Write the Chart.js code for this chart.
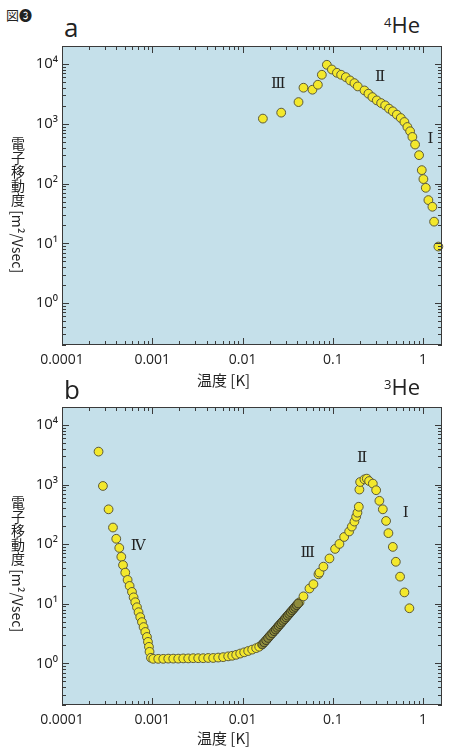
<!DOCTYPE html>
<html>
<head>
<meta charset="utf-8">
<script src="https://cdn.jsdelivr.net/npm/chart.js@4.4.1/dist/chart.umd.min.js"></script>
<style>
  body { margin: 0; background: #fff; width: 452px; height: 747px; position: relative; overflow: hidden;
         font-family: "Open Sans", "Noto Sans", sans-serif; color: #222; }
  .wrap { position: absolute; left: 0; width: 452px; height: 390px; }
  .lbl { position: absolute; line-height: 1; white-space: nowrap; }
  .ytitle { position: absolute; writing-mode: vertical-rl; text-orientation: mixed;
            font-family: "Noto Sans CJK JP", sans-serif; font-size: 14px; line-height: 1; }
  .xtitle { position: absolute; font-family: "Noto Sans CJK JP", sans-serif; font-size: 15px; line-height: 1; }
</style>
</head>
<body>
<div class="lbl" style="left:6px;top:8px;font-family:'Noto Sans CJK JP';font-size:13px;">図❸</div>

<div class="lbl" style="left:64px;top:14px;font-size:26px;">a</div>
<div class="lbl" style="left:384px;top:13px;font-size:22px;"><sup style="font-size:13px;vertical-align:6px;">4</sup>He</div>
<div class="wrap" style="top:0;"><canvas id="he4"></canvas></div>
<div class="ytitle" style="left:11px;top:137px;">電子移動度 [m²/Vsec]</div>
<div class="xtitle" style="left:197px;top:372px;">温度 [K]</div>

<div class="lbl" style="left:64px;top:376px;font-size:26px;">b</div>
<div class="lbl" style="left:384px;top:375px;font-size:22px;"><sup style="font-size:13px;vertical-align:6px;">3</sup>He</div>
<div class="wrap" style="top:360px;"><canvas id="he3"></canvas></div>
<div class="ytitle" style="left:11px;top:496px;">電子移動度 [m²/Vsec]</div>
<div class="xtitle" style="left:197px;top:730px;">温度 [K]</div>

<script>
// axis ticks
const xTickValues = [0.0001, 0.001, 0.01, 0.1, 1];
const xTickLabels = ['0.0001', '0.001', '0.01', '0.1', '1'];
const yTickValues = [1, 10, 100, 1000, 10000];
const yTickLabels = ['10⁰', '10¹', '10²', '10³', '10⁴'];

// (a) 4He : temperature [K], mobility [m^2/Vsec]
const he4T  = [0.0168, 0.0268, 0.0417, 0.0473, 0.0595, 0.0683, 0.0756, 0.0859, 0.0976, 0.111,
               0.1236, 0.1394, 0.1555, 0.1735, 0.189, 0.224, 0.248, 0.2746, 0.307, 0.343,
               0.380, 0.420, 0.462, 0.512, 0.566, 0.621, 0.670, 0.718, 0.761, 0.815,
               0.903, 0.967, 1.008, 1.071, 1.145, 1.268, 1.324, 1.477];
const he4Mu = [1222, 1537, 2307, 4012, 3715, 4500, 6607, 9700, 8094, 7130,
               6607, 6026, 5309, 4786, 4217, 3615, 3187, 2797, 2464, 2221,
               2033, 1792, 1616, 1423, 1250, 1072, 884, 750, 603, 450,
               299, 168, 119, 85, 53, 41, 23.1, 8.85];
const he4Regions = ['Ⅲ', 'Ⅱ', 'Ⅰ'];
const he4RegionT = [0.0248, 0.334, 1.21];
const he4RegionMu = [4550, 5957, 552];

// (b) 3He
const he3T  = [0.000254, 0.000284, 0.000328, 0.000367, 0.000399, 0.000431, 0.000454, 0.000474, 0.000502, 0.000533,
               0.000561, 0.000596, 0.000621, 0.000648, 0.000677, 0.000705, 0.000736, 0.000769, 0.000801, 0.000837,
               0.000873, 0.000896, 0.000919, 0.000933, 0.000967,
               0.001026, 0.001165, 0.001324, 0.001503, 0.001707, 0.001939, 0.002203, 0.002502, 0.002842, 0.003228,
               0.003666, 0.004164, 0.00473, 0.00537, 0.0061, 0.00693, 0.00769, 0.00851, 0.00942, 0.01043,
               0.01155, 0.01279, 0.01416, 0.01529,
               0.0428, 0.0473, 0.0551, 0.061, 0.0693, 0.0711, 0.0787, 0.0918, 0.106, 0.1184,
               0.1335, 0.1517, 0.1625, 0.1735, 0.1813, 0.1874, 0.194, 0.197, 0.2007, 0.224,
               0.238, 0.2524, 0.2775, 0.302, 0.328, 0.358, 0.389, 0.413, 0.462, 0.499,
               0.556, 0.621, 0.705];
const he3Mu = [3565, 946, 384, 190, 123, 86.5, 61.3, 44.5, 33.3, 25.1,
               19.9, 15.8, 12.8, 10.6, 8.73, 7.21, 5.96, 4.92, 4.06, 3.36,
               2.77, 2.29, 1.89, 1.56, 1.24,
               1.19, 1.19, 1.19, 1.20, 1.20, 1.20, 1.21, 1.21, 1.22, 1.22,
               1.22, 1.23, 1.23, 1.25, 1.27, 1.31, 1.34, 1.39, 1.46, 1.53,
               1.61, 1.70, 1.80, 1.90,
               10.6, 13.3, 18.0, 21.3, 31.2, 33.3, 41.9, 57.5, 83.2, 100.8,
               131.8, 163, 197, 239, 289, 337, 424, 824, 1102, 1222,
               1256, 1145, 1037, 803, 533, 384, 245, 153, 89.9, 50.6,
               28.5, 15.5, 8.4];
// crowded, darker-looking stretch of region III
const he3DenseT  = [0.0165, 0.0174, 0.01828, 0.0192, 0.0202, 0.0213, 0.02241, 0.0233, 0.0242, 0.0251,
                    0.02612, 0.0271, 0.02818, 0.0293, 0.03043, 0.0316, 0.03285, 0.0341, 0.03548, 0.0369,
                    0.03828, 0.0398, 0.0413];
const he3DenseMu = [2.07, 2.25, 2.45, 2.67, 2.92, 3.18, 3.46, 3.70, 3.96, 4.24,
                    4.53, 4.84, 5.17, 5.53, 5.91, 6.32, 6.76, 7.22, 7.73, 8.26,
                    8.83, 9.45, 10.1];
const he3Regions = ['Ⅳ', 'Ⅲ', 'Ⅱ', 'Ⅰ'];
const he3RegionT = [0.00070, 0.0526, 0.211, 0.64];
const he3RegionMu = [94.4, 69.5, 2780, 333];

const PLOT_BG = '#c5e0ea';
const FRAME = '#3a3a3a';

function logSteps(min, max) {
  const out = [];
  for (let d = Math.floor(Math.log10(min)); d <= Math.ceil(Math.log10(max)); d++) {
    for (let m = 1; m <= 9; m++) {
      const v = m * Math.pow(10, d);
      if (v >= min && v <= max) out.push({ v, major: m === 1 });
    }
  }
  return out;
}

const framePlugin = {
  id: 'frame',
  beforeDatasetsDraw(chart) {
    const { ctx, chartArea: a } = chart;
    ctx.save();
    ctx.fillStyle = PLOT_BG;
    ctx.fillRect(a.left, a.top, a.width, a.height);
    ctx.restore();
  },
  afterDraw(chart) {
    const { ctx, chartArea: a, scales: { x, y } } = chart;
    ctx.save();
    ctx.strokeStyle = FRAME;
    ctx.lineWidth = 1;
    ctx.strokeRect(a.left + 0.5, a.top + 0.5, a.width - 1, a.height - 1);
    ctx.beginPath();
    logSteps(x.min, x.max).forEach(t => {
      const px = Math.round(x.getPixelForValue(t.v)) + 0.5;
      const len = t.major ? 7 : 4;
      ctx.moveTo(px, a.bottom); ctx.lineTo(px, a.bottom - len);
      ctx.moveTo(px, a.top); ctx.lineTo(px, a.top + len);
    });
    logSteps(y.min, y.max).forEach(t => {
      const py = Math.round(y.getPixelForValue(t.v)) + 0.5;
      const len = t.major ? 7 : 4;
      ctx.moveTo(a.left, py); ctx.lineTo(a.left + len, py);
      ctx.moveTo(a.right, py); ctx.lineTo(a.right - len, py);
    });
    ctx.stroke();
    ctx.restore();
  }
};

const regionPlugin = {
  id: 'regions',
  afterDatasetsDraw(chart, args, opts) {
    const { ctx, scales: { x, y } } = chart;
    ctx.save();
    ctx.font = '15px "DejaVu Serif", "Liberation Serif", serif';
    ctx.fillStyle = '#222';
    ctx.textAlign = 'center';
    ctx.textBaseline = 'middle';
    opts.names.forEach((n, i) => {
      ctx.fillText(n, x.getPixelForValue(opts.t[i]), y.getPixelForValue(opts.mu[i]));
    });
    ctx.restore();
  }
};

function pts(ts, mus) {
  return ts.map((t, i) => ({ x: t, y: mus[i] }));
}

function makeChart(id, datasets, names, rt, rmu, padTop) {
  new Chart(document.getElementById(id), {
    type: 'scatter',
    data: { datasets },
    options: {
      responsive: true,
      maintainAspectRatio: false,
      animation: false,
      layout: { padding: { top: padTop, right: 10, left: 0, bottom: 0 } },
      plugins: {
        legend: { display: false },
        tooltip: { enabled: false },
        regions: { names, t: rt, mu: rmu }
      },
      scales: {
        x: {
          type: 'logarithmic', min: 0.0001, max: 1.62,
          grid: { display: false, drawTicks: false },
          border: { display: false },
          afterBuildTicks: s => { s.ticks = xTickValues.map(v => ({ value: v })); },
          afterFit: s => { s.height = 45; },
          ticks: {
            padding: 7, color: '#222', maxRotation: 0, autoSkip: false,
            font: { family: '"Open Sans", "Noto Sans", sans-serif', size: 14 },
            callback: (v, i) => xTickLabels[i]
          }
        },
        y: {
          type: 'logarithmic', min: 0.2, max: 20000,
          grid: { display: false, drawTicks: false },
          border: { display: false },
          afterBuildTicks: s => { s.ticks = yTickValues.map(v => ({ value: v })); },
          afterFit: s => { s.width = 62; },
          ticks: {
            padding: 4, color: '#222', autoSkip: false,
            font: { family: '"Open Sans", "Noto Sans", sans-serif', size: 15 },
            callback: (v, i) => yTickLabels[i]
          }
        }
      }
    },
    plugins: [framePlugin, regionPlugin]
  });
}

const yellow = { backgroundColor: '#f3e82c', borderColor: '#5d5a3a', borderWidth: 1, pointRadius: 4.4, clip: false };

makeChart('he4', [
  { ...yellow, data: pts(he4T, he4Mu) }
], he4Regions, he4RegionT, he4RegionMu, 46);

makeChart('he3', [
  { backgroundColor: '#8f8c3c', borderColor: '#3c3b24', borderWidth: 1, pointRadius: 4.4, clip: false, data: pts(he3DenseT, he3DenseMu), order: 0 },
  { ...yellow, data: pts(he3T, he3Mu), order: 1 }
], he3Regions, he3RegionT, he3RegionMu, 47);
</script>
</body>
</html>
